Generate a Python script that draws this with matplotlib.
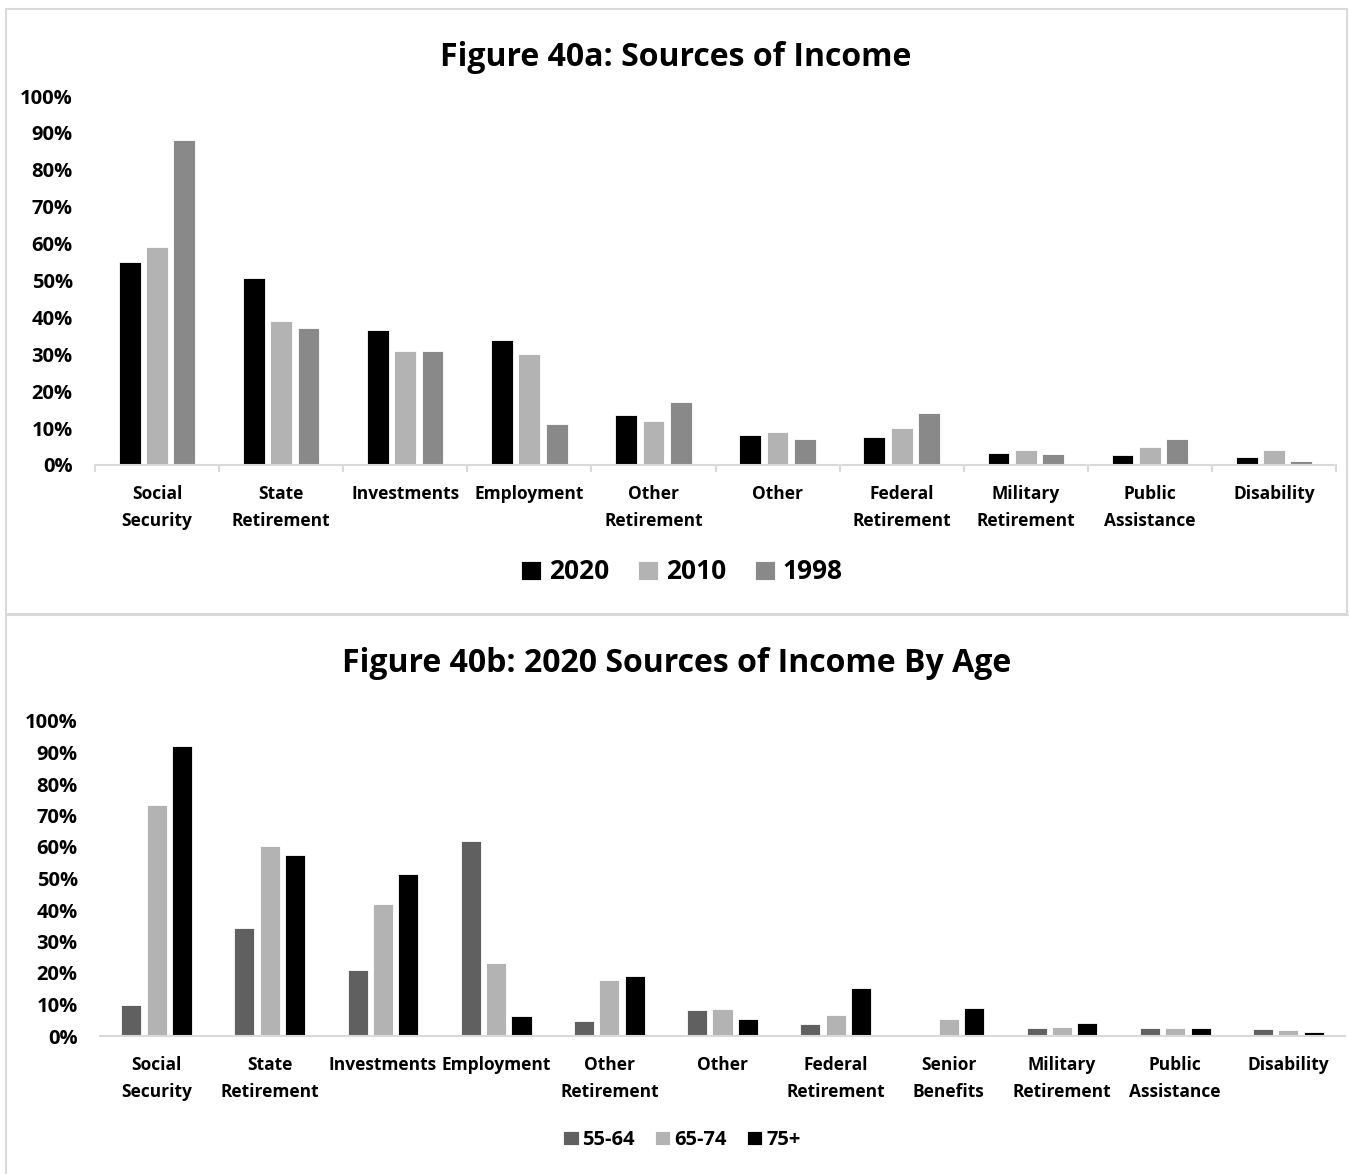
import matplotlib
matplotlib.use("Agg")
import matplotlib.pyplot as plt
import numpy as np
from matplotlib.patches import Rectangle
from matplotlib.ticker import FuncFormatter

plt.rcParams['font.family'] = ['Open Sans', 'DejaVu Sans']
plt.rcParams['font.weight'] = 'bold'

# ---- Figure 40a data ----
cats_a = ["Social\nSecurity", "State\nRetirement", "Investments", "Employment",
          "Other\nRetirement", "Other", "Federal\nRetirement", "Military\nRetirement",
          "Public\nAssistance", "Disability"]
years = ["2020", "2010", "1998"]
y2020 = [55, 50.7, 36.6, 34, 13.5, 8.1, 7.6, 3.2, 2.8, 2.1]
y2010 = [59, 39, 31, 30, 12, 9, 10, 4, 5, 4]
y1998 = [88, 37, 31, 11, 17, 7, 14, 3, 7, 1]
colors_a = ["#000000", "#b3b3b3", "#898989"]

# ---- Figure 40b data ----
cats_b = ["Social\nSecurity", "State\nRetirement", "Investments", "Employment",
          "Other\nRetirement", "Other", "Federal\nRetirement", "Senior\nBenefits",
          "Military\nRetirement", "Public\nAssistance", "Disability"]
ages = ["55-64", "65-74", "75+"]
age55 = [10, 34.3, 21, 62, 4.7, 8.3, 3.8, 0, 2.6, 2.5, 2.1]
age65 = [73.2, 60.4, 42, 23.2, 17.8, 8.5, 6.7, 5.3, 2.9, 2.5, 2.0]
age75 = [92, 57.4, 51.5, 6.3, 19, 5.3, 15.2, 8.8, 4, 2.5, 1.2]
colors_b = ["#606060", "#b3b3b3", "#000000"]

W, H = 1349, 1174
fig = plt.figure(figsize=(W / 100, H / 100), dpi=100)
fig.patch.set_facecolor("white")

# panel borders
fig.add_artist(Rectangle((6 / W, 1 - 614 / H), (1347 - 6) / W, (614 - 9) / H,
                         transform=fig.transFigure, fill=False,
                         edgecolor="#d9d9d9", linewidth=1.5))
fig.add_artist(Rectangle((6 / W, -0.01), 1.1, 1 - 615 / H + 0.01,
                         transform=fig.transFigure, fill=False,
                         edgecolor="#d9d9d9", linewidth=1.5))

pct = FuncFormatter(lambda v, p: f"{int(round(v))}%")


def draw_panel(ax, cats, series, names, colors, width, pitch, boundary_ticks):
    x = np.arange(len(cats))
    for i, (vals, name, c) in enumerate(zip(series, names, colors)):
        ax.bar(x + (i - 1) * pitch, vals, width=width, color=c, label=name,
               edgecolor="white", linewidth=0.6)
    ax.set_xlim(-0.5, len(cats) - 0.5)
    ax.set_ylim(0, 100)
    ax.set_yticks(np.arange(0, 101, 10))
    ax.yaxis.set_major_formatter(pct)
    for s in ["top", "right", "left"]:
        ax.spines[s].set_visible(False)
    ax.spines["bottom"].set_color("#d9d9d9")
    ax.spines["bottom"].set_linewidth(1.5)
    ax.tick_params(axis="y", length=0, labelsize=14.5, pad=16)
    ax.set_xticks(x)
    ax.set_xticklabels(cats, fontsize=12.5, fontweight="bold", linespacing=1.6)
    ax.tick_params(axis="x", length=0, pad=14.5)
    if boundary_ticks:
        ax.set_xticks(np.arange(-0.5, len(cats), 1.0), minor=True)
        ax.tick_params(axis="x", which="minor", length=5, width=1.5,
                       color="#d9d9d9", direction="out")
    for lbl in ax.get_yticklabels():
        lbl.set_fontweight("bold")


# ---- top panel ----
ax1 = fig.add_axes([95 / W, 1 - 465 / H, (1336 - 95) / W, (465 - 96) / H])
draw_panel(ax1, cats_a, [y2020, y2010, y1998], years, colors_a,
           0.175, 0.22, True)
fig.text(676 / W, 1 - 57 / H, "Figure 40a: Sources of Income",
         ha="center", va="center", fontsize=23, fontweight="bold")
ax1.legend(loc="center", bbox_to_anchor=(682 / W, 1 - 572 / H),
           bbox_transform=fig.transFigure, ncol=3, frameon=False,
           prop={"size": 19, "weight": "bold"}, handlelength=0.75,
           handleheight=0.75, handletextpad=0.3, columnspacing=1.1)

# ---- bottom panel ----
ax2 = fig.add_axes([100 / W, 1 - 1036 / H, (1345 - 100) / W, (1036 - 721) / H])
draw_panel(ax2, cats_b, [age55, age65, age75], ages, colors_b,
           0.177, 0.224, False)
fig.text(677 / W, 1 - 663 / H, "Figure 40b: 2020 Sources of Income By Age",
         ha="center", va="center", fontsize=23, fontweight="bold")
ax2.legend(loc="center", bbox_to_anchor=(682 / W, 1 - 1140 / H),
           bbox_transform=fig.transFigure, ncol=3, frameon=False,
           prop={"size": 14.5, "weight": "bold"}, handlelength=0.75,
           handleheight=0.75, handletextpad=0.2, columnspacing=1.0)

fig.savefig("out.png", dpi=100, facecolor="white")
